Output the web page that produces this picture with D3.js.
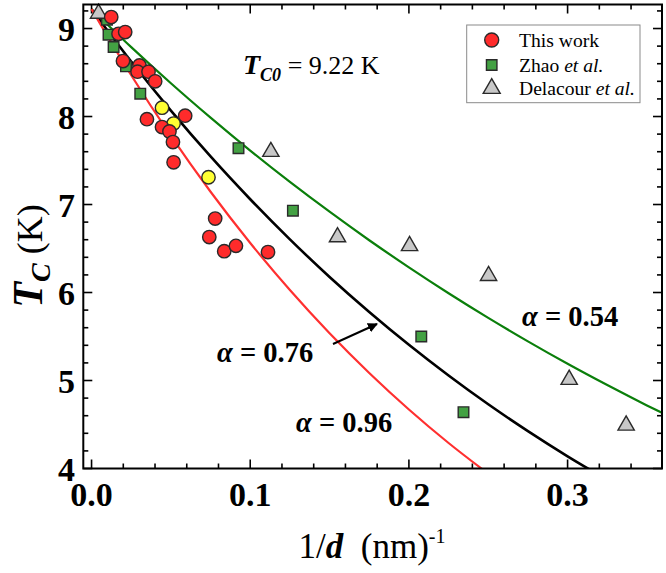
<!DOCTYPE html>
<html><head><meta charset="utf-8">
<script src="https://cdn.jsdelivr.net/npm/d3@7"></script>
<style>body{margin:0;background:#fff}svg{display:block}</style>
</head><body>
<svg id="c" width="666" height="573"></svg>
<script>
// ---- data ----
const thisWorkX = [0.0124,0.0170,0.0212,0.0198,0.0302,0.0290,0.0359,0.0401,0.0349,0.0444,0.0491,0.0513,0.0590,0.0517,0.0779,0.0742,0.0836,0.0910,0.1112];
const thisWorkY = [9.13,8.94,8.96,8.63,8.58,8.51,8.51,8.40,7.97,7.88,7.83,7.71,8.01,7.48,6.84,6.63,6.47,6.53,6.46];
const yellowX = [0.0444,0.0517,0.0737];
const yellowY = [8.10,7.92,7.31];
const zhaoX = [0.0097,0.0107,0.0139,0.0217,0.0307,0.0926,0.1269,0.2078,0.2344];
const zhaoY = [9.10,8.93,8.79,8.57,8.26,7.64,6.93,5.50,4.64];
const delacourX = [0.0044,0.1130,0.1550,0.2004,0.2502,0.3010,0.3369];
const delacourY = [9.17,7.60,6.63,6.53,6.19,5.01,4.49];
// fit curves
const fitRedX   = [0,0.025,0.05,0.075,0.1,0.125,0.15,0.175,0.2,0.225,0.25];
const fitRedY   = [9.22,8.469,7.779,7.145,6.563,6.028,5.537,5.086,4.671,4.290,3.941];
const fitBlackX = [0,0.025,0.05,0.075,0.1,0.125,0.15,0.175,0.2,0.225,0.25,0.275,0.3,0.325];
const fitBlackY = [9.22,8.625,8.067,7.546,7.060,6.604,6.177,5.779,5.406,5.057,4.730,4.425,4.139,3.872];
const fitGreenX = [0,0.025,0.05,0.075,0.1,0.125,0.15,0.175,0.2,0.225,0.25,0.275,0.3,0.325,0.35,0.36];
const fitGreenY = [9.22,8.789,8.378,7.987,7.613,7.257,6.918,6.594,6.286,5.992,5.712,5.445,5.190,4.948,4.717,4.628];
const xTicks = [0.0,0.1,0.2,0.3];
const xTickLabels = ["0.0","0.1","0.2","0.3"];
const yTicks = [4,5,6,7,8,9];
const yTickLabels = ["4","5","6","7","8","9"];
const legendLabels = [["This work",""],["Zhao ","et al."],["Delacour ","et al."]];

// ---- layout ----
const L=83.3, R=662, T=4.5, B=468.5;
const x = d3.scaleLinear().domain([-0.0052,0.3595]).range([L,R]);
const y = d3.scaleLinear().domain([4,9.273]).range([B,T]);
const svg = d3.select("#c");
const serif = "'Liberation Serif','Times New Roman',serif";

svg.append("defs").append("clipPath").attr("id","clip")
  .append("rect").attr("x",L).attr("y",T).attr("width",R-L).attr("height",B-T);
svg.select("defs").append("marker").attr("id","ah").attr("viewBox","0 0 10 10")
  .attr("refX",9).attr("refY",5).attr("markerWidth",5).attr("markerHeight",5)
  .attr("orient","auto").attr("markerUnits","strokeWidth")
  .append("path").attr("d","M0,0L10,5L0,10Z").attr("fill","#000");

// ticks (inward on all sides)
const xMinor = d3.range(0,0.36,0.02);
const yMinor = d3.range(4,9.28,0.2);
const tk = svg.append("g").attr("stroke","#000").attr("stroke-width",1.6);
xMinor.forEach(v=>{
  const isMaj = xTicks.some(t=>Math.abs(t-v)<1e-6);
  const len = isMaj?9:5;
  tk.append("line").attr("x1",x(v)).attr("x2",x(v)).attr("y1",B).attr("y2",B-len);
  tk.append("line").attr("x1",x(v)).attr("x2",x(v)).attr("y1",T).attr("y2",T+len);
});
yMinor.forEach(v=>{
  const isMaj = yTicks.some(t=>Math.abs(t-v)<1e-6);
  const len = isMaj?9:5;
  tk.append("line").attr("y1",y(v)).attr("y2",y(v)).attr("x1",L).attr("x2",L+len);
  tk.append("line").attr("y1",y(v)).attr("y2",y(v)).attr("x1",R).attr("x2",R-len);
});

// fit curves
const line = d3.line().x(d=>x(d[0])).y(d=>y(d[1])).curve(d3.curveMonotoneX);
const cg = svg.append("g").attr("clip-path","url(#clip)").attr("fill","none");
cg.append("path").datum(d3.zip(fitGreenX,fitGreenY)).attr("d",line).attr("stroke","#0b7f0b").attr("stroke-width",2.2);
cg.append("path").datum(d3.zip(fitBlackX,fitBlackY)).attr("d",line).attr("stroke","#000").attr("stroke-width",2.6);
cg.append("path").datum(d3.zip(fitRedX,fitRedY)).attr("d",line).attr("stroke","#ff3030").attr("stroke-width",2.2);

// markers
const sym = (type,size)=>d3.symbol().type(type).size(size)();
const mg = svg.append("g").attr("stroke","#2a2a2a").attr("stroke-width",1.4);
mg.selectAll(".sq").data(d3.zip(zhaoX,zhaoY)).join("path")
  .attr("d",sym(d3.symbolSquare,112)).attr("fill","#43a143")
  .attr("transform",d=>`translate(${x(d[0])},${y(d[1])})`);
mg.selectAll(".tr").data(d3.zip(delacourX,delacourY)).join("path")
  .attr("d",sym(d3.symbolTriangle,115)).attr("fill","#c8c8c8")
  .attr("transform",d=>`translate(${x(d[0])},${y(d[1])})`);
mg.selectAll(".ye").data(d3.zip(yellowX,yellowY)).join("circle")
  .attr("r",6.7).attr("fill","#ffff33")
  .attr("cx",d=>x(d[0])).attr("cy",d=>y(d[1]));
mg.selectAll(".rd").data(d3.zip(thisWorkX,thisWorkY)).join("circle")
  .attr("r",6.7).attr("fill","#ff2b2b")
  .attr("cx",d=>x(d[0])).attr("cy",d=>y(d[1]));

// frame
svg.append("rect").attr("x",L).attr("y",T).attr("width",R-L).attr("height",B-T)
  .attr("fill","none").attr("stroke","#000").attr("stroke-width",2);

// tick labels
const tl = svg.append("g").attr("font-family",serif).attr("font-weight","bold").attr("font-size",34).attr("fill","#000");
xTicks.forEach((v,i)=>tl.append("text").attr("x",x(v)).attr("y",506).attr("text-anchor","middle").text(xTickLabels[i]));
yTicks.forEach((v,i)=>tl.append("text").attr("x",75).attr("y",y(v)+12).attr("text-anchor","end").text(yTickLabels[i]));

// axis titles
const xt = svg.append("text").attr("x",372).attr("y",558).attr("text-anchor","middle")
  .attr("font-family",serif).attr("font-size",35);
xt.append("tspan").text("1/");
xt.append("tspan").attr("font-weight","bold").attr("font-style","italic").text("d");
xt.append("tspan").text("\u00a0\u00a0(nm)");
xt.append("tspan").attr("font-size",20).attr("dy",-15).text("-1");

const yt = svg.append("text").attr("transform","translate(42,256) rotate(-90)")
  .attr("text-anchor","middle").attr("font-family",serif);
yt.append("tspan").attr("font-size",42).attr("font-weight","bold").attr("font-style","italic").text("T");
yt.append("tspan").attr("font-size",28).attr("font-weight","bold").attr("font-style","italic").attr("dy",8).text("C");
yt.append("tspan").attr("font-size",36).attr("dy",-8).text("\u00a0(K)");

// annotations
const tc = svg.append("text").attr("x",243).attr("y",74).attr("font-family",serif);
tc.append("tspan").attr("font-size",28).attr("font-weight","bold").attr("font-style","italic").text("T");
tc.append("tspan").attr("font-size",18).attr("font-weight","bold").attr("font-style","italic").attr("dy",7).text("C0");
tc.append("tspan").attr("font-size",26).attr("dy",-7).text(" = 9.22 K");

function alpha(xp,yp,val){
  const t = svg.append("text").attr("x",xp).attr("y",yp).attr("font-family",serif)
    .attr("font-size",28.5).attr("font-weight","bold");
  t.append("tspan").attr("font-style","italic").text("\u03b1");
  t.append("tspan").text(" = "+val);
}
alpha(217,362,"0.76");
alpha(296,432,"0.96");
alpha(522,326,"0.54");

svg.append("line").attr("x1",333).attr("y1",344).attr("x2",377).attr("y2",324)
  .attr("stroke","#000").attr("stroke-width",2).attr("marker-end","url(#ah)");

// legend
const lg = svg.append("g");
lg.append("rect").attr("x",466.7).attr("y",25).attr("width",173.3).attr("height",77.7)
  .attr("fill","#fff").attr("stroke","#8a8a8a").attr("stroke-width",1);
const rowsY=[40,65,88.5];
lg.append("circle").attr("cx",491.7).attr("cy",rowsY[0]).attr("r",7).attr("fill","#ff2b2b").attr("stroke","#2a2a2a").attr("stroke-width",1.4);
lg.append("path").attr("d",sym(d3.symbolSquare,110)).attr("transform",`translate(491.7,${rowsY[1]})`).attr("fill","#43a143").attr("stroke","#2a2a2a").attr("stroke-width",1.4);
lg.append("path").attr("d",sym(d3.symbolTriangle,125)).attr("transform",`translate(491.7,${rowsY[2]})`).attr("fill","#c8c8c8").attr("stroke","#2a2a2a").attr("stroke-width",1.4);
legendLabels.forEach((lab,i)=>{
  const t = lg.append("text").attr("x",519).attr("y",rowsY[i]+6.5).attr("font-family",serif).attr("font-size",19.6);
  t.append("tspan").text(lab[0]);
  if(lab[1]) t.append("tspan").attr("font-style","italic").text(lab[1]);
});
</script>
</body></html>
